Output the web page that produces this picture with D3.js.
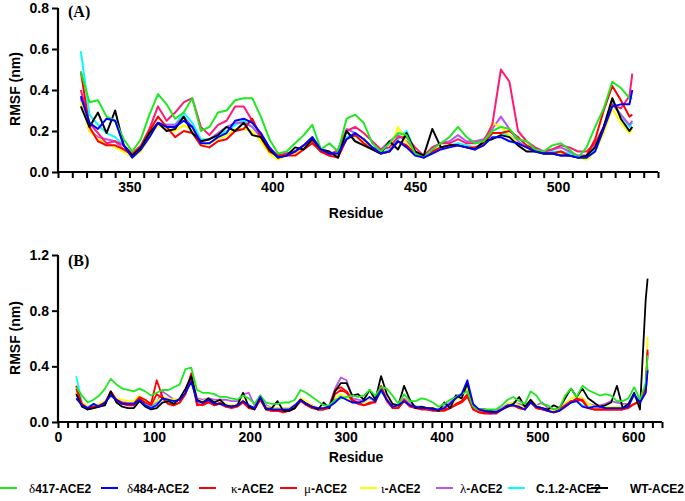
<!DOCTYPE html>
<html><head><meta charset="utf-8">
<script src="https://cdn.jsdelivr.net/npm/d3@7"></script>
<style>body{margin:0;background:#fff}svg{display:block}</style>
</head><body>
<svg id="chart" width="685" height="501"></svg>
<script>
// ---------- DATA ----------
const seriesNames = ["δ417-ACE2","δ484-ACE2","κ-ACE2","μ-ACE2","ι-ACE2","λ-ACE2","C.1.2-ACE2","WT-ACE2"];
const legendColors = ["#1ee81e","#0000ff","#ff0000","#ff0000","#ffff00","#bb55ee","#00ffff","#000000"];
const topColors    = ["#1ee81e","#0000ff","#ff0000","#ff1a75","#ffff00","#bb55ee","#00ffff","#000000"];

const topTickLabels = [350, 400, 450, 500];
const bottomTickLabels = [0, 100, 200, 300, 400, 500, 600];
const topYTicks = [0, 0.2, 0.4, 0.6, 0.8];
const bottomYTicks = [0, 0.4, 0.8, 1.2];

// Panel A: residues (RBD)
const residuesA = [333,336,339,342,345,348,351,354,357,360,363,366,369,372,375,378,381,384,387,390,393,396,399,402,405,408,411,414,417,420,423,426,429,432,435,438,441,444,447,450,453,456,459,462,465,468,471,474,477,480,483,486,489,492,495,498,501,504,507,510,513,516,519,522,525,526];
const d417A = [.49,.34,.35,.27,.25,.16,.10,.16,.28,.38,.33,.26,.29,.36,.20,.22,.29,.30,.35,.36,.36,.27,.16,.09,.10,.14,.18,.23,.11,.14,.10,.26,.28,.24,.14,.10,.14,.19,.18,.09,.07,.11,.14,.17,.22,.17,.14,.15,.20,.22,.21,.16,.15,.11,.10,.13,.14,.11,.07,.12,.22,.31,.44,.41,.36,.36];
const d484A = [.37,.24,.21,.26,.25,.13,.07,.11,.17,.24,.22,.22,.25,.22,.14,.14,.17,.19,.25,.26,.24,.19,.12,.07,.08,.10,.13,.17,.11,.09,.09,.16,.19,.16,.12,.09,.10,.15,.12,.08,.07,.09,.11,.12,.13,.12,.11,.13,.17,.17,.15,.14,.12,.10,.09,.09,.08,.08,.07,.07,.10,.21,.32,.33,.33,.40];
const kappaA = [.49,.22,.15,.13,.13,.11,.085,.12,.20,.27,.22,.17,.20,.19,.13,.12,.15,.16,.20,.21,.26,.17,.10,.08,.08,.08,.11,.14,.10,.08,.07,.16,.18,.14,.11,.09,.10,.15,.13,.09,.07,.10,.12,.13,.13,.12,.12,.14,.19,.19,.20,.17,.13,.11,.09,.09,.10,.08,.07,.08,.16,.30,.42,.35,.27,.28];
const muA = [.40,.24,.19,.14,.15,.13,.09,.13,.21,.32,.25,.29,.34,.36,.22,.18,.23,.25,.32,.32,.25,.18,.12,.08,.09,.10,.13,.15,.10,.08,.11,.20,.22,.19,.15,.11,.12,.17,.17,.12,.08,.12,.14,.14,.16,.14,.14,.15,.23,.50,.44,.20,.15,.12,.10,.11,.13,.12,.10,.10,.14,.22,.33,.31,.37,.48];
const iotaA = [.34,.20,.16,.14,.12,.10,.07,.10,.17,.23,.21,.20,.23,.20,.13,.14,.16,.18,.21,.21,.20,.15,.09,.06,.08,.09,.12,.16,.11,.09,.09,.16,.18,.15,.11,.09,.10,.22,.14,.09,.07,.10,.12,.13,.13,.12,.12,.14,.24,.22,.18,.14,.12,.10,.09,.09,.09,.08,.07,.06,.10,.19,.31,.24,.19,.21];
const lambdaA = [.36,.20,.17,.16,.15,.11,.08,.12,.19,.24,.23,.23,.27,.22,.15,.16,.19,.22,.24,.24,.22,.17,.11,.08,.09,.10,.13,.17,.11,.09,.10,.21,.19,.16,.12,.11,.15,.18,.15,.10,.07,.12,.14,.15,.18,.15,.15,.16,.21,.27,.21,.15,.12,.11,.10,.11,.12,.10,.08,.08,.13,.22,.33,.28,.23,.25];
const c12A = [.59,.28,.23,.19,.17,.13,.08,.12,.18,.23,.23,.23,.29,.24,.16,.16,.18,.20,.23,.25,.22,.17,.10,.07,.08,.10,.13,.16,.11,.09,.09,.17,.19,.16,.12,.09,.11,.16,.20,.10,.07,.10,.12,.13,.14,.13,.12,.14,.19,.19,.18,.15,.12,.11,.09,.10,.10,.09,.08,.07,.11,.20,.34,.28,.22,.24];
const wtA = [.32,.22,.29,.19,.30,.13,.08,.12,.19,.24,.20,.21,.27,.19,.15,.16,.18,.22,.20,.24,.18,.17,.11,.07,.08,.12,.11,.16,.11,.10,.07,.20,.15,.13,.11,.09,.15,.11,.19,.10,.08,.21,.12,.13,.13,.12,.11,.15,.16,.18,.17,.13,.10,.10,.09,.09,.08,.08,.07,.08,.12,.22,.36,.26,.20,.22];

// Panel B: residues (ACE2)
const residuesB = [19,25,31,37,43,49,55,61,67,73,79,85,91,97,103,109,115,121,127,133,139,145,151,157,163,169,175,181,187,193,199,205,211,217,223,229,235,241,247,253,259,265,271,277,283,289,295,301,307,313,319,325,331,337,343,349,355,361,367,373,379,385,391,397,403,409,415,421,427,433,439,445,451,457,463,469,475,481,487,493,499,505,511,517,523,529,535,541,547,553,559,565,571,577,583,589,595,601,607,613,615];
const d417B = [.25,.19,.14,.16,.19,.24,.31,.27,.24,.23,
  .22,.24,.22,.19,.21,.23,.23,.25,.27,.38,
  .39,.23,.21,.21,.20,.18,.18,.17,.16,.19,
  .17,.13,.19,.14,.13,.13,.14,.14,.16,.23,
  .21,.18,.15,.12,.12,.16,.17,.18,.19,.18,
  .19,.23,.19,.25,.24,.19,.13,.20,.15,.15,
  .17,.16,.14,.11,.13,.16,.18,.20,.22,.11,
  .09,.09,.09,.09,.12,.16,.18,.15,.13,.22,
  .19,.13,.12,.09,.10,.19,.24,.18,.26,.23,
  .21,.19,.20,.19,.15,.15,.17,.25,.16,.28,.48];
const d484B = [.17,.12,.10,.13,.11,.14,.19,.16,.13,.13,
  .13,.16,.12,.10,.12,.17,.16,.15,.16,.21,
  .29,.15,.14,.16,.13,.13,.12,.11,.12,.15,
  .12,.10,.18,.10,.09,.09,.09,.09,.12,.16,
  .13,.11,.10,.10,.11,.14,.18,.16,.14,.14,
  .15,.18,.15,.23,.16,.11,.12,.15,.12,.11,
  .10,.10,.09,.09,.10,.13,.17,.20,.30,.13,
  .09,.08,.07,.07,.09,.12,.12,.11,.09,.14,
  .11,.10,.08,.07,.08,.11,.14,.15,.11,.10,
  .11,.11,.10,.10,.10,.10,.11,.20,.14,.21,.37];
const kappaB = [.26,.12,.09,.10,.11,.13,.22,.16,.14,.13,
  .13,.18,.16,.13,.30,.18,.13,.12,.14,.20,
  .33,.12,.13,.15,.12,.14,.11,.11,.12,.15,
  .11,.10,.17,.09,.08,.08,.07,.08,.10,.16,
  .13,.11,.09,.09,.11,.23,.25,.22,.16,.14,
  .12,.13,.15,.26,.16,.10,.10,.16,.12,.10,
  .10,.09,.09,.08,.08,.10,.12,.14,.18,.09,
  .07,.06,.06,.06,.09,.12,.12,.10,.09,.15,
  .10,.09,.08,.07,.09,.12,.15,.15,.16,.10,
  .09,.09,.09,.09,.09,.09,.11,.13,.15,.25,.50];
const muB = [.24,.13,.10,.11,.12,.14,.21,.15,.13,.12,
  .12,.17,.14,.12,.20,.17,.13,.12,.14,.21,
  .35,.13,.12,.14,.12,.13,.11,.10,.11,.14,
  .10,.09,.16,.09,.08,.08,.08,.08,.10,.15,
  .12,.10,.09,.09,.10,.20,.23,.21,.15,.13,
  .12,.14,.14,.24,.15,.10,.10,.15,.11,.10,
  .09,.09,.08,.08,.09,.10,.13,.15,.20,.09,
  .07,.07,.06,.07,.09,.11,.12,.10,.09,.14,
  .10,.09,.08,.07,.08,.11,.14,.17,.15,.10,
  .09,.09,.09,.09,.09,.09,.10,.13,.14,.24,.52];
const iotaB = [.22,.14,.11,.12,.13,.15,.20,.17,.16,.15,
  .15,.19,.15,.13,.15,.18,.17,.16,.17,.23,
  .34,.16,.15,.17,.14,.14,.13,.12,.13,.16,
  .12,.10,.18,.11,.10,.10,.10,.10,.12,.17,
  .15,.12,.10,.10,.12,.17,.20,.18,.15,.14,
  .14,.17,.16,.25,.17,.11,.11,.16,.12,.11,
  .11,.10,.10,.09,.10,.12,.16,.18,.24,.11,
  .08,.08,.07,.07,.09,.13,.14,.12,.10,.16,
  .12,.10,.09,.08,.09,.13,.17,.19,.17,.13,
  .11,.11,.11,.11,.11,.11,.12,.19,.16,.26,.61];
const lambdaB = [.21,.13,.10,.12,.12,.14,.21,.16,.14,.14,
  .14,.17,.14,.12,.14,.22,.19,.16,.16,.22,
  .32,.17,.16,.17,.16,.16,.16,.15,.15,.20,
  .21,.12,.19,.12,.10,.10,.10,.10,.12,.16,
  .14,.12,.10,.10,.12,.24,.32,.30,.17,.16,
  .15,.17,.16,.24,.17,.12,.12,.17,.13,.11,
  .11,.10,.09,.08,.11,.14,.19,.20,.24,.11,
  .09,.08,.08,.08,.10,.13,.14,.13,.11,.15,
  .12,.14,.10,.09,.10,.13,.15,.16,.17,.13,
  .12,.12,.13,.15,.14,.13,.13,.19,.14,.22,.38];
const c12B = [.33,.14,.11,.13,.12,.14,.19,.16,.14,.13,
  .13,.16,.13,.11,.13,.17,.16,.15,.16,.21,
  .30,.15,.14,.16,.13,.13,.12,.12,.12,.15,
  .12,.10,.17,.10,.09,.09,.09,.09,.12,.16,
  .13,.11,.10,.10,.11,.15,.19,.16,.14,.14,
  .14,.17,.15,.22,.16,.11,.11,.15,.12,.11,
  .10,.10,.09,.09,.10,.13,.16,.19,.26,.12,
  .09,.08,.07,.07,.09,.12,.12,.11,.10,.14,
  .11,.10,.08,.08,.09,.12,.14,.15,.12,.11,
  .11,.11,.10,.10,.11,.11,.12,.19,.14,.22,.40];
const wtB = [.20,.11,.09,.10,.11,.12,.22,.14,.11,.10,
  .10,.15,.11,.09,.10,.14,.15,.13,.17,.24,
  .33,.16,.14,.17,.14,.16,.12,.11,.12,.21,
  .11,.09,.18,.09,.10,.15,.08,.08,.10,.16,
  .13,.11,.09,.14,.10,.22,.28,.28,.19,.20,
  .16,.23,.16,.33,.20,.13,.12,.26,.16,.10,
  .11,.10,.10,.08,.14,.10,.19,.17,.28,.11,
  .09,.09,.08,.07,.09,.11,.13,.18,.11,.16,
  .11,.10,.09,.12,.10,.17,.24,.18,.24,.17,
  .14,.11,.12,.14,.26,.10,.13,.21,.09,.88,1.03];

// ---------- DRAW ----------
const svg = d3.select("#chart");
const SANS = "'Liberation Sans', Arial, Helvetica, sans-serif";
const SERIF = "'Liberation Serif', 'Times New Roman', serif";
const drawOrder = [6, 5, 4, 3, 2, 7, 0, 1];

function panel(cfg) {
  const x = d3.scaleLinear().domain(cfg.xDomain).range(cfg.xRange);
  const y = d3.scaleLinear().domain(cfg.yDomain).range(cfg.yRange);
  const g = svg.append("g");

  const line = d3.line().x((d) => x(d[0])).y((d) => y(d[1]));
  drawOrder.forEach((i) => {
    const vals = cfg.series[i];
    g.append("path")
      .datum(cfg.residues.map((r, k) => [r, vals[k]]))
      .attr("fill", "none")
      .attr("stroke", cfg.colors[i])
      .attr("stroke-width", cfg.lineWidth)
      .attr("stroke-linejoin", "round")
      .attr("d", line);
  });

  const xAxis = d3.axisBottom(x)
    .tickValues(cfg.xTicks)
    .tickSize(6).tickSizeOuter(0).tickPadding(4)
    .tickFormat((d) => cfg.xLabels.includes(d) ? String(d) : "");
  const gx = g.append("g").attr("transform", `translate(0,${cfg.yRange[0]})`).call(xAxis);

  const yAxis = d3.axisLeft(y)
    .tickValues(cfg.yTicks)
    .tickSize(6).tickSizeOuter(0).tickPadding(3)
    .tickFormat(d3.format(".1f"));
  const gy = g.append("g").attr("transform", `translate(${cfg.xRange[0]},0)`).call(yAxis);

  [gx, gy].forEach((a) => {
    a.select(".domain").attr("stroke", "#000").attr("stroke-width", 2.2);
    a.selectAll(".tick line").attr("stroke", "#000").attr("stroke-width", 2);
    a.selectAll(".tick text").attr("fill", "#000")
      .style("font-family", SANS).style("font-weight", "bold").style("font-size", "14px");
  });
  gx.select(".domain").attr("d", `M${cfg.xRange[0] - 1},0H${cfg.xRange[1]}`);
  gy.select(".domain").attr("d", `M0,${cfg.yRange[0] + 1}V${cfg.yRange[1]}`);

  g.append("text")
    .attr("x", 356).attr("y", cfg.xTitleY)
    .attr("text-anchor", "middle")
    .style("font-family", SANS).style("font-weight", "bold").style("font-size", "14px")
    .text("Residue");

  g.append("text")
    .attr("transform", `translate(20,${cfg.yTitleCenter}) rotate(-90)`)
    .attr("text-anchor", "middle")
    .style("font-family", SANS).style("font-weight", "bold").style("font-size", "14px")
    .text("RMSF (nm)");

  g.append("text")
    .attr("x", 68).attr("y", cfg.labelY)
    .style("font-family", SERIF).style("font-weight", "bold").style("font-size", "16px")
    .text(cfg.label);
}

panel({
  residues: residuesA,
  series: [d417A, d484A, kappaA, muA, iotaA, lambdaA, c12A, wtA],
  colors: topColors, lineWidth: 2,
  xDomain: [325, 535], xRange: [58, 658],
  yDomain: [0, 0.8], yRange: [172, 8],
  xTicks: d3.range(325, 536, 5), xLabels: topTickLabels, yTicks: topYTicks,
  xTitleY: 218, yTitleCenter: 89, labelY: 17, label: "(A)"
});

panel({
  residues: residuesB,
  series: [d417B, d484B, kappaB, muB, iotaB, lambdaB, c12B, wtB],
  colors: legendColors, lineWidth: 1.8,
  xDomain: [0, 630], xRange: [58, 662],
  yDomain: [0, 1.2], yRange: [422, 255],
  xTicks: d3.range(0, 631, 10), xLabels: bottomTickLabels, yTicks: bottomYTicks,
  xTitleY: 462, yTitleCenter: 338, labelY: 266, label: "(B)"
});

// ---------- LEGEND ----------
const legLineX = [0, 101, 199, 280, 360, 436, 508, 591];
const legTextX = [29, 127, 231, 304, 381, 460, 536, 630];
const legY = 488;
const leg = svg.append("g");
seriesNames.forEach((name, i) => {
  leg.append("line")
    .attr("x1", legLineX[i]).attr("x2", legLineX[i] + 17)
    .attr("y1", legY).attr("y2", legY)
    .attr("stroke", legendColors[i]).attr("stroke-width", 2);
  const t = leg.append("text").attr("x", legTextX[i]).attr("y", legY + 4.5)
    .style("font-family", SANS).style("font-weight", "bold").style("font-size", "12px");
  const first = name[0];
  if (/[α-ωΑ-Ω]/.test(first)) {
    t.append("tspan").style("font-family", SERIF).style("font-weight", "normal")
      .style("font-size", "13px").text(first);
    t.append("tspan").text(name.slice(1));
  } else {
    t.text(name);
  }
});
</script>
</body></html>
